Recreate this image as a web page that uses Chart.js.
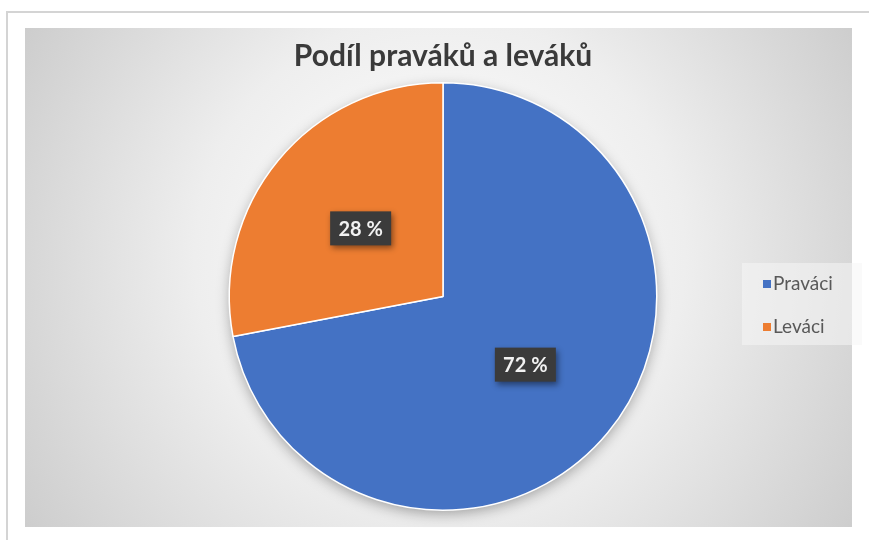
<!DOCTYPE html>
<html><head><meta charset="utf-8">
<script src="https://cdn.jsdelivr.net/npm/chart.js@4/dist/chart.umd.min.js"></script>
<style>html,body{margin:0;padding:0;background:#fff}#wrap{width:869px;height:540px}</style>
</head><body><div id="wrap"><canvas id="c" width="869" height="540"></canvas></div>
<script>
const categories = ['Praváci', 'Leváci'];
const values = [72, 28];
const valueLabels = ['72 %', '28 %'];
const colors = ['#4472C4', '#ED7D31'];
const titleText = 'Podíl praváků a leváků';

const bgPlugin = {
  id: 'bg',
  beforeDraw(chart) {
    const ctx = chart.ctx;
    ctx.save();
    ctx.fillStyle = '#ffffff';
    ctx.fillRect(0, 0, chart.width, chart.height);
    ctx.strokeStyle = '#d4d4d4';
    ctx.lineWidth = 2;
    ctx.strokeRect(7, 12, 880, 560);
    const g = ctx.createRadialGradient(440, 240, 20, 440, 280, 520);
    g.addColorStop(0, '#ffffff');
    g.addColorStop(0.45, '#eeeeee');
    g.addColorStop(1, '#c8c8c8');
    ctx.fillStyle = g;
    ctx.fillRect(25, 28, 827, 499);
    ctx.restore();
  },
  beforeDatasetsDraw(chart) {
    const meta = chart.getDatasetMeta(0);
    const a = meta.data[0];
    if (!a) return;
    const ctx = chart.ctx;
    ctx.save();
    ctx.shadowColor = 'rgba(0,0,0,0.35)';
    ctx.shadowBlur = 14;
    ctx.shadowOffsetY = 4;
    ctx.fillStyle = '#888';
    ctx.beginPath();
    ctx.arc(a.x, a.y, a.outerRadius - 1, 0, Math.PI * 2);
    ctx.fill();
    ctx.restore();
  },
  afterDatasetsDraw(chart) {
    const meta = chart.getDatasetMeta(0);
    const ctx = chart.ctx;
    ctx.save();
    ctx.font = 'bold 20px Lato, "Open Sans", sans-serif';
    ctx.textAlign = 'center';
    ctx.textBaseline = 'middle';
    meta.data.forEach((arc, i) => {
      const p = arc.tooltipPosition();
      const w = 61, h = 34;
      ctx.save();
      ctx.shadowColor = 'rgba(0,0,0,0.45)';
      ctx.shadowBlur = 6;
      ctx.shadowOffsetX = 2;
      ctx.shadowOffsetY = 3;
      ctx.fillStyle = '#3b3b3b';
      ctx.fillRect(p.x - w / 2, p.y - h / 2, w, h);
      ctx.restore();
      ctx.fillStyle = '#f2f2f2';
      ctx.fillText(valueLabels[i], p.x, p.y + 1);
    });
    const lx = 742, ly = 263, lw = 120, lh = 82;
    ctx.fillStyle = 'rgba(245,245,245,0.55)';
    ctx.fillRect(lx, ly, lw, lh);
    ctx.font = '19px Lato, "Open Sans", sans-serif';
    ctx.textAlign = 'left';
    categories.forEach((c, i) => {
      const y = 284 + i * 43;
      ctx.fillStyle = colors[i];
      ctx.fillRect(763, y - 4, 8, 8);
      ctx.fillStyle = '#595959';
      ctx.fillText(c, 773, y);
    });
    ctx.restore();
  }
};

new Chart(document.getElementById('c'), {
  type: 'pie',
  data: {
    labels: categories,
    datasets: [{
      data: values,
      backgroundColor: colors,
      borderColor: '#ffffff',
      borderWidth: 1.5,
      hoverOffset: 0
    }]
  },
  options: {
    responsive: false,
    animation: false,
    layout: { padding: { left: 60, right: 43, top: 40, bottom: 29 } },
    plugins: {
      legend: { display: false },
      tooltip: { enabled: false },
      title: {
        display: true,
        text: titleText,
        color: '#3a3a3a',
        font: { size: 30, weight: 'bold', family: 'Lato, "Open Sans", sans-serif', lineHeight: 1.1 },
        padding: { top: 0, bottom: 9 }
      }
    }
  },
  plugins: [bgPlugin]
});
</script>
</body></html>
